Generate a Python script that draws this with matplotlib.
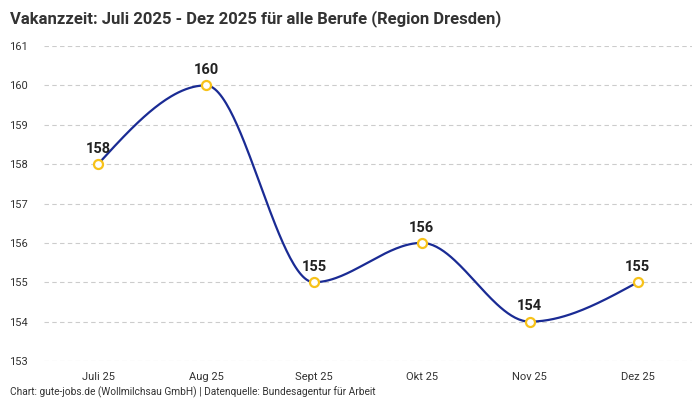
import numpy as np
import matplotlib
matplotlib.use("Agg")
import matplotlib.pyplot as plt

months = ["Juli 25", "Aug 25", "Sept 25", "Okt 25", "Nov 25", "Dez 25"]
values = [158, 160, 155, 156, 154, 155]
yticks = [153, 154, 155, 156, 157, 158, 159, 160, 161]

title = "Vakanzzeit: Juli 2025 - Dez 2025 für alle Berufe (Region Dresden)"
source = "Chart: gute-jobs.de (Wollmilchsau GmbH) | Datenquelle: Bundesagentur für Arbeit"

plt.rcParams['font.family'] = ['Roboto', 'DejaVu Sans']


def monotone_x(x, y, n=60):
    x = np.asarray(x, float)
    y = np.asarray(y, float)
    h = np.diff(x)
    s = np.diff(y) / h
    m = np.zeros_like(y)
    for i in range(1, len(y) - 1):
        if s[i - 1] * s[i] <= 0:
            m[i] = 0
        else:
            p = (s[i - 1] * h[i] + s[i] * h[i - 1]) / (h[i - 1] + h[i])
            m[i] = (np.sign(s[i - 1]) + np.sign(s[i])) * min(abs(s[i - 1]), abs(s[i]), 0.5 * abs(p))
    m[0] = (3 * s[0] - m[1]) / 2 if len(y) > 2 else s[0]
    m[-1] = (3 * s[-1] - m[-2]) / 2 if len(y) > 2 else s[-1]
    xs, ys = [], []
    for i in range(len(y) - 1):
        t = np.linspace(0, 1, n)
        h00 = 2 * t**3 - 3 * t**2 + 1
        h10 = t**3 - 2 * t**2 + t
        h01 = -2 * t**3 + 3 * t**2
        h11 = t**3 - t**2
        xs.append(x[i] + t * h[i])
        ys.append(h00 * y[i] + h10 * h[i] * m[i] + h01 * y[i + 1] + h11 * h[i] * m[i + 1])
    return np.concatenate(xs), np.concatenate(ys)


fig = plt.figure(figsize=(7, 4), dpi=100)
ax = fig.add_axes([0.063, 0.0975, 0.925, 0.7875])

x = np.arange(len(months))
sx, sy = monotone_x(x, values)
ax.plot(sx, sy, color="#1a2b94", lw=1.6, zorder=3)
ax.plot(x, values, 'o', ms=6.5, mfc="white", mec="#f7c21a", mew=1.6, zorder=4)
for xi, v in zip(x, values):
    ax.annotate(str(v), (xi, v), xytext=(0, 6), textcoords="offset points",
                ha="center", va="bottom", fontsize=10.5, fontweight="bold", color="#222222")

ax.set_xlim(-0.5, len(months) - 0.5)
ax.set_ylim(153, 161)
ax.set_yticks(yticks)
ax.set_yticklabels([str(t) for t in yticks])
ax.set_xticks(x)
ax.set_xticklabels(months)
ax.tick_params(axis="both", length=0, labelsize=8, colors="#333333")
ax.tick_params(axis="y", pad=25)
for lab in ax.get_yticklabels():
    lab.set_horizontalalignment("left")
ax.tick_params(axis="x", pad=8)
ax.yaxis.grid(True, color="#cccccc", linestyle=(0, (4, 3)), lw=0.8)
ax.set_axisbelow(True)
for sp in ax.spines.values():
    sp.set_visible(False)

fig.text(0.014, 0.975, title, ha="left", va="top", fontsize=12, fontweight="bold", color="#333333")
fig.text(0.014, 0.005, source, ha="left", va="bottom", fontsize=7.3, color="#333333")

fig.savefig("out.png", dpi=100)
